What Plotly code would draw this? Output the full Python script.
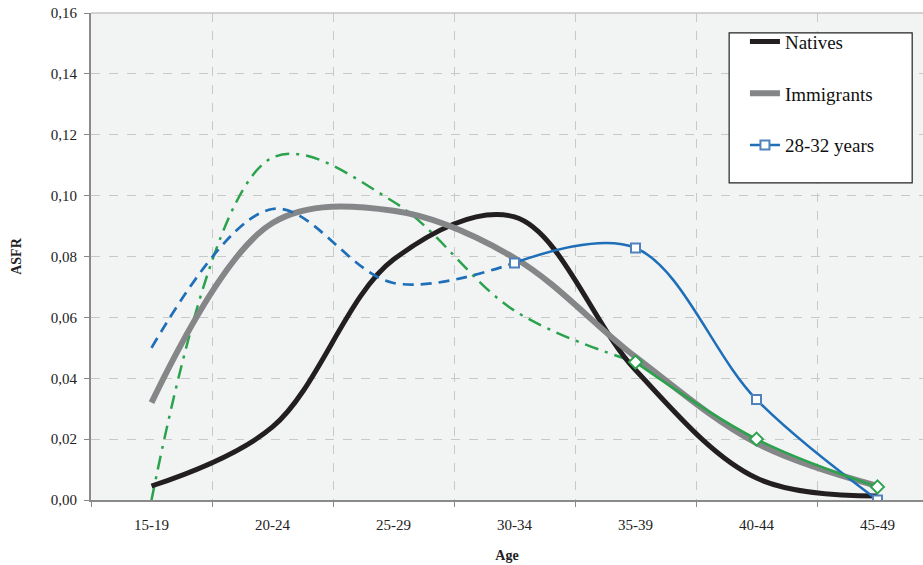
import plotly.graph_objects as go

ages = ["15-19", "20-24", "25-29", "30-34", "35-39", "40-44", "45-49"]

natives = [0.0046, 0.024, 0.079, 0.093, 0.0427, 0.0072, 0.0013]
immigrants = [0.032, 0.091, 0.095, 0.0795, 0.047, 0.0187, 0.0046]
years_28_32 = [0.050, 0.0956, 0.0713, 0.0779, 0.0828, 0.033, 0.0]
years_other = [0.0, 0.1125, 0.098, 0.0622, 0.0453, 0.020, 0.0043]

# split point: observed part dashed, later part solid with markers
blue_cut = 3
green_cut = 4

font_name = "Liberation Serif"
blue = "#1f6fb8"
green = "#2ba24c"

fig = go.Figure()

fig.add_trace(go.Scatter(
    x=ages[:green_cut + 1], y=years_other[:green_cut + 1], mode="lines",
    line=dict(color=green, width=2.5, dash="14px,7px,3px,7px", shape="spline"),
    showlegend=False, hoverinfo="skip"))

fig.add_trace(go.Scatter(
    x=ages, y=natives, mode="lines", name="Natives", legendgroup="a", legendrank=1,
    line=dict(color="#231f20", width=5, shape="spline")))
fig.add_trace(go.Scatter(
    x=ages, y=immigrants, mode="lines", name="Immigrants", legendgroup="b", legendrank=2,
    line=dict(color="#858688", width=6, shape="spline")))

fig.add_trace(go.Scatter(
    x=ages[:blue_cut + 1], y=years_28_32[:blue_cut + 1], mode="lines",
    line=dict(color=blue, width=2.7, dash="11px,7px", shape="spline"),
    showlegend=False, hoverinfo="skip"))
fig.add_trace(go.Scatter(
    x=ages[blue_cut:], y=years_28_32[blue_cut:], mode="lines+markers",
    name="28-32 years", legendgroup="c", legendrank=3,
    line=dict(color=blue, width=2.5, shape="spline"),
    marker=dict(symbol="square", size=9, color="white", line=dict(color="#4f81bd", width=2))))

fig.add_trace(go.Scatter(
    x=ages[green_cut:], y=years_other[green_cut:], mode="lines+markers",
    line=dict(color=green, width=2.5, shape="spline"),
    marker=dict(symbol="diamond", size=10, color="white", line=dict(color=green, width=2)),
    showlegend=False))

fig.update_layout(
    width=923, height=565,
    margin=dict(l=91, r=0, t=13, b=65),
    paper_bgcolor="white", plot_bgcolor="#f2f4f4",
    font=dict(family=font_name, size=15, color="#222"),
    separators=", ",
    legend=dict(
        x=0.786, y=0.98, xanchor="left", yanchor="top",
        bgcolor="rgba(0,0,0,0)", borderwidth=0,
        font=dict(family=font_name, size=19, color="#111"),
        tracegroupgap=24, traceorder="grouped",
        itemwidth=30),
    shapes=[
        dict(type="line", xref="paper", yref="paper", x0=0, x1=1, y0=1, y1=1,
             line=dict(color="#c4c4c4", width=1.5)),
        dict(type="rect", xref="paper", yref="paper", x0=0.767, x1=0.987, y0=0.651, y1=0.959,
             fillcolor="white", line=dict(color="#222", width=1.2), layer="above"),
    ],
)

fig.update_xaxes(
    type="category", range=[-0.5, 6.376], automargin=False,
    tickson="boundaries", ticks="outside", ticklen=5, tickcolor="#888",
    ticklabelstandoff=10,
    showgrid=True, gridcolor="#c8c8c8", griddash="dash", gridwidth=1,
    showline=True, linecolor="#8a8a8a", linewidth=2,
    title=dict(text="<b>Age</b>", font=dict(family=font_name, size=14), standoff=18),
)
fig.update_yaxes(
    range=[0, 0.16], dtick=0.02, tickformat=".2f", automargin=False,
    ticks="outside", ticklen=5, tickcolor="#888",
    ticklabelstandoff=4,
    showgrid=True, gridcolor="#c8c8c8", griddash="dash", gridwidth=1,
    showline=True, linecolor="#8a8a8a", linewidth=2, zeroline=False,
    title=dict(text="<b>ASFR</b>", font=dict(family=font_name, size=14), standoff=26),
)

# drop the default 8px page margin so the figure sits at the window corner
fig.write_html("out.html", config={"displayModeBar": False},
               post_script="document.body.style.margin='0px';")
